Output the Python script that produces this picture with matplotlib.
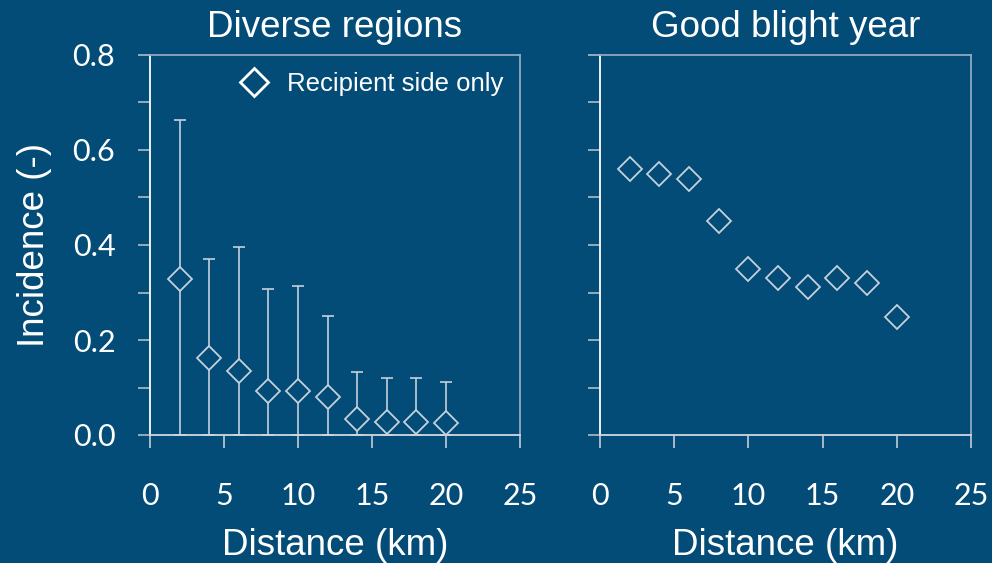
import matplotlib
matplotlib.use("Agg")
import matplotlib.pyplot as plt
from matplotlib.lines import Line2D
from matplotlib.ticker import MultipleLocator
import numpy as np

# data
distance = [2, 4, 6, 8, 10, 12, 14, 16, 18, 20]
diverse_mean = [0.328, 0.163, 0.135, 0.093, 0.093, 0.079, 0.033, 0.027, 0.027, 0.025]
diverse_upper = [0.663, 0.371, 0.395, 0.307, 0.314, 0.250, 0.133, 0.120, 0.120, 0.112]
good_year = [0.56, 0.55, 0.54, 0.45, 0.35, 0.33, 0.311, 0.33, 0.32, 0.249]

titles = ["Diverse regions", "Good blight year"]
xlabel = "Distance (km)"
ylabel = "Incidence (-)"
legend_label = "Recipient side only"

bg = "#024c77"
mark_col = "#c5d0da"
spine_side = "#8fa9c0"

plt.rcParams["font.family"] = ["Liberation Sans", "DejaVu Sans"]

fig = plt.figure(figsize=(9.92, 5.63), dpi=100)
fig.patch.set_facecolor(bg)

ax1 = fig.add_axes([150 / 992, 1 - 435 / 563, 370 / 992, 380 / 563])
ax2 = fig.add_axes([600 / 992, 1 - 435 / 563, 371 / 992, 380 / 563])

for ax, title in zip([ax1, ax2], titles):
    ax.set_facecolor(bg)
    ax.set_xlim(0, 25)
    ax.set_ylim(0, 0.8)
    ax.xaxis.set_major_locator(MultipleLocator(5))
    ax.yaxis.set_major_locator(MultipleLocator(0.2))
    ax.yaxis.set_minor_locator(MultipleLocator(0.1))
    ax.spines["left"].set_color("white")
    ax.spines["bottom"].set_color("#cfd8e0")
    ax.spines["top"].set_color(spine_side)
    ax.spines["right"].set_color(spine_side)
    for s in ax.spines.values():
        s.set_linewidth(1.3)
    ax.tick_params(axis="x", direction="out", length=9, width=1.1, color="#cfd8e0",
                   pad=25, labelsize=22, labelcolor="white", labelfontfamily="Lato")
    ax.tick_params(axis="y", which="both", direction="out", length=9, width=1.1,
                   color="#b8c6d2", pad=16, labelsize=22, labelcolor="white",
                   labelfontfamily="Lato")
    ax.set_title(title, color="white", fontsize=26.5, pad=13)
    ax.set_xlabel(xlabel, color="white", fontsize=26.5, labelpad=13)
    ax.yaxis.set_major_formatter(lambda v, p: f"{v:.1f}")

lower = np.array(diverse_mean)
upper = np.array(diverse_upper) - np.array(diverse_mean)
ax1.errorbar(distance, diverse_mean, yerr=[lower, upper], fmt="none",
             ecolor=mark_col, elinewidth=1.2, capsize=4, capthick=1.2, zorder=2)
ax1.plot(distance, diverse_mean, "D", ms=12, mfc=bg, mec=mark_col, mew=1.3, zorder=3)
ax1.set_ylabel(ylabel, color="white", fontsize=26.5, labelpad=15)

ax2.plot(distance, good_year, "D", ms=12, mfc="none", mec=mark_col, mew=1.3)
ax2.tick_params(axis="y", labelleft=False)

handle = Line2D([], [], marker="D", ls="none", ms=14, mfc="none", mec="white", mew=2)
leg = ax1.legend([handle], [legend_label], loc="upper right", frameon=False,
                 fontsize=18.5, handletextpad=0.3, borderaxespad=0.25,
                 bbox_to_anchor=(1.0, 1.0))
for t in leg.get_texts():
    t.set_color("white")

fig.savefig("out.png", dpi=100, facecolor=bg)
